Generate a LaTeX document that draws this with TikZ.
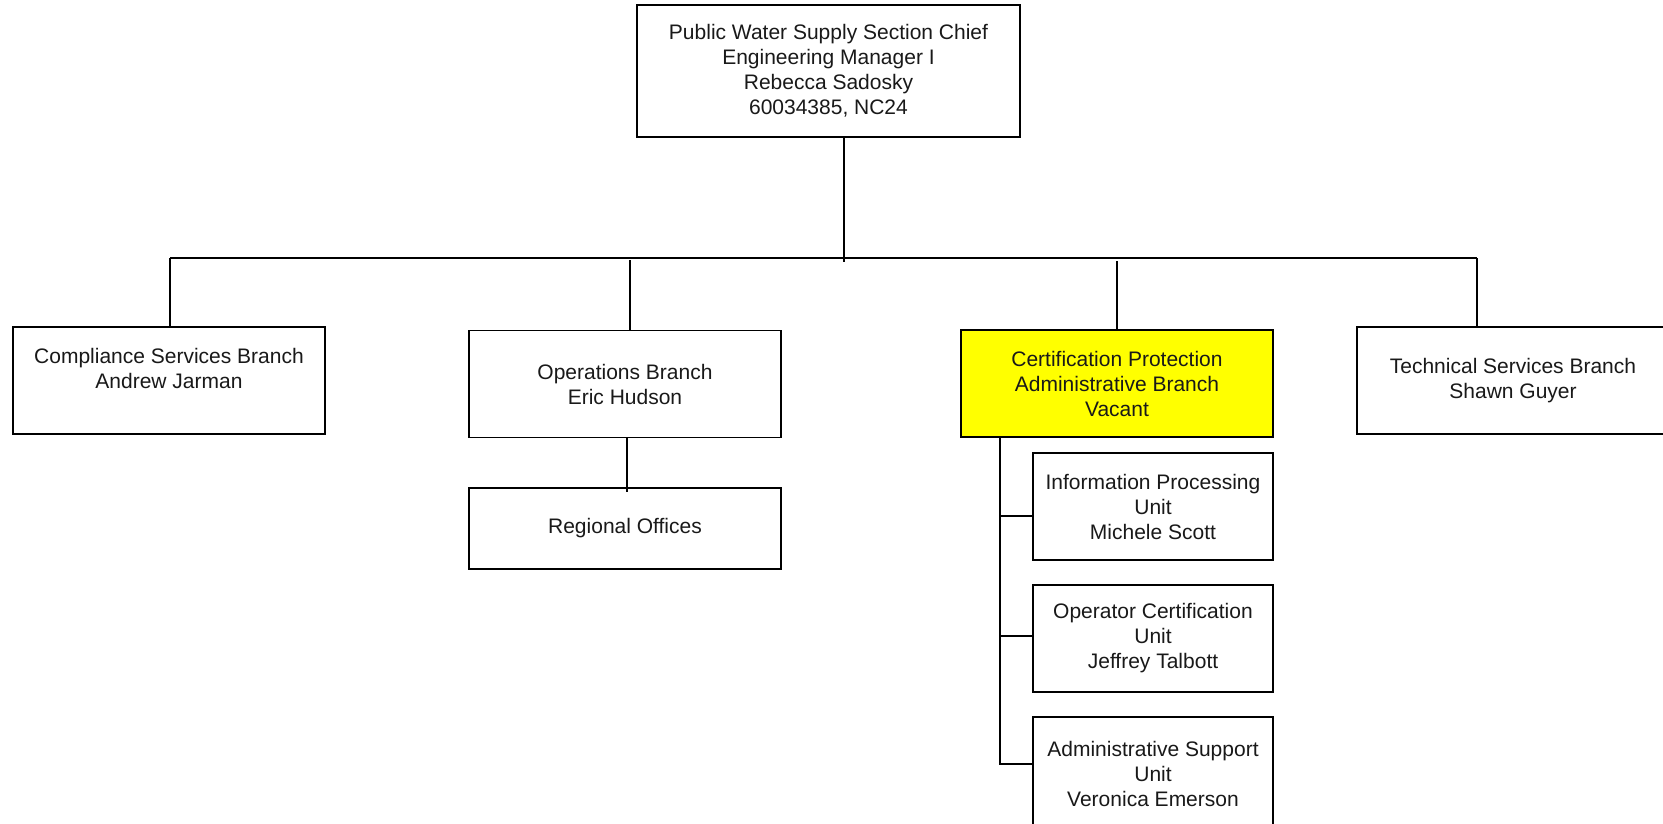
\documentclass[tikz,border=0pt]{standalone}
\usepackage{fontspec}
\setmainfont{Liberation Sans}
\begin{document}
\begin{tikzpicture}[x=1pt,y=-1pt,
  box/.style={draw=black,line width=1.6pt,rectangle,inner sep=0pt,align=center,
    font=\fontsize{21}{25}\selectfont,text=black!90},
  branch/.style={box,minimum width=312pt,minimum height=107pt},
  unitbox/.style={box,minimum width=240pt,minimum height=107pt},
  conn/.style={line width=1.6pt,draw=black}]
\useasboundingbox (0,0) rectangle (1663,823);
\fill[white] (0,0) rectangle (1663,823);

\node[box,minimum width=383pt,minimum height=132pt] (top) at (828.5,71)
  {Public Water Supply Section Chief\\Engineering Manager I\\Rebecca Sadosky\\60034385, NC24};

\node[branch] (comp) at (169,380.5) {Compliance Services Branch\\Andrew Jarman\\\mbox{}};
\node[branch] (ops) at (625,384) {Operations Branch\\Eric Hudson};
\node[box,minimum width=312pt,minimum height=81pt] (reg) at (625,528.5) {Regional Offices};
\node[branch,fill={rgb,255:red,255;green,255;blue,0}] (cert) at (1117,383.5)
  {Certification Protection\\Administrative Branch\\Vacant};
\node[branch] (tech) at (1513,380.5) {Technical Services Branch\\Shawn Guyer};

\node[unitbox] (info) at (1153,506.5) {Information Processing\\Unit\\Michele Scott};
\node[unitbox] (oper) at (1153,638.5) {Operator Certification\\Unit\\Jeffrey Talbott};
\node[unitbox,minimum height=113pt] (adm) at (1153,773.5) {Administrative Support\\Unit\\Veronica Emerson};

% bus and drops
\coordinate (busL) at (170,258);
\coordinate (busR) at (1477,258);
\coordinate (tj) at (844,262);
\coordinate (oj) at (630,260);
\coordinate (cj) at (1117,261);
\coordinate (rj) at (627,492);
\coordinate (cv) at (1000,764);

\draw[conn] (busL) -- (busR);
\draw[conn] (top.south -| tj) -- (tj);
\draw[conn] (busL) -- (busL |- comp.north);
\draw[conn] (oj) -- (oj |- ops.north);
\draw[conn] (cj) -- (cj |- cert.north);
\draw[conn] (busR) -- (busR |- tech.north);
\draw[conn] (rj |- ops.south) -- (rj);

\draw[conn] (cv |- cert.south) -- (cv) -- (adm.west |- cv);
\draw[conn] (cv |- 0,516) -- (info.west |- 0,516);
\draw[conn] (cv |- 0,636) -- (oper.west |- 0,636);
\end{tikzpicture}
\end{document}
